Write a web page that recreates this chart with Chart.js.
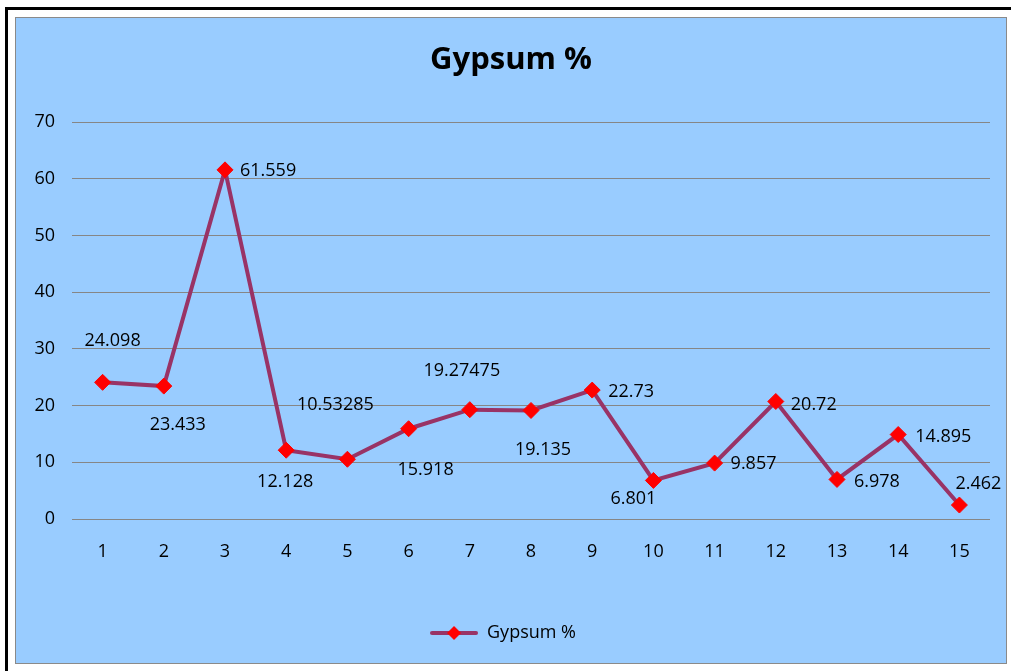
<!DOCTYPE html>
<html>
<head>
<meta charset="utf-8">
<script src="https://cdn.jsdelivr.net/npm/chart.js@4.4.1/dist/chart.umd.min.js"></script>
<style>
  html, body { margin: 0; padding: 0; background: #ffffff; overflow: hidden; width: 1011px; height: 671px; }
  #frame { position: absolute; left: 5px; top: 7px; width: 1100px; height: 800px; border: 3px solid #000; }
  #wrap { position: absolute; left: 15px; top: 17px; width: 990px; height: 645px; border: 1px solid #8a8a8a; background: #99ccff; }
  canvas { display: block; }
</style>
</head>
<body>
<div id="frame"></div>
<div id="wrap"><canvas id="c" width="990" height="645"></canvas></div>
<script>
// ---- data ----
const categories = ['1','2','3','4','5','6','7','8','9','10','11','12','13','14','15'];
const gypsum = [24.098, 23.433, 61.559, 12.128, 10.53285, 15.918, 19.27475, 19.135, 22.73, 6.801, 9.857, 20.72, 6.978, 14.895, 2.462];
const valueLabels = ['24.098','23.433','61.559','12.128','10.53285','15.918','19.27475','19.135','22.73','6.801','9.857','20.72','6.978','14.895','2.462'];
const seriesName = 'Gypsum %';
const chartTitle = 'Gypsum %';

// label placement (kept separate from data)
const labelAlign = ['center','center','left','center','center','center','center','center','left','center','left','left','left','left','center'];
const labelDx = [10, 14, 15, -1, -12, 17, -8, 12, 16, -20, 16, 15, 17, 17, 19];
const labelDy = [-41, 39, 1, 32, -54, 41, -39, 39, 2, 18, 1, 3, 2, 2, -21];

const FONT = "'Open Sans', 'Liberation Sans', sans-serif";
const lineColor = '#993366';
const markerColor = '#ff0000';

// legend symbol: line with diamond
const legendSym = document.createElement('canvas');
legendSym.width = 48; legendSym.height = 18;
(function(){
  const g = legendSym.getContext('2d');
  g.strokeStyle = lineColor; g.lineWidth = 4; g.lineCap = 'round';
  g.beginPath(); g.moveTo(2, 9); g.lineTo(46, 9); g.stroke();
  g.fillStyle = markerColor;
  g.beginPath(); g.moveTo(24, 2); g.lineTo(31, 9); g.lineTo(24, 16); g.lineTo(17, 9); g.closePath(); g.fill();
})();

const labelPlugin = {
  id: 'valueLabels',
  afterDatasetsDraw(chart) {
    const ctx = chart.ctx;
    const meta = chart.getDatasetMeta(0);
    ctx.save();
    ctx.font = "18px " + FONT;
    ctx.fillStyle = '#000';
    ctx.textBaseline = 'middle';
    meta.data.forEach((pt, i) => {
      ctx.textAlign = labelAlign[i];
      ctx.fillText(valueLabels[i], pt.x + labelDx[i], pt.y + labelDy[i]);
    });
    ctx.restore();
  }
};

const titlePlugin = {
  id: 'centeredTitle',
  afterDraw(chart) {
    const ctx = chart.ctx;
    ctx.save();
    ctx.font = "bold 31px " + FONT;
    ctx.fillStyle = '#000';
    ctx.textAlign = 'center';
    ctx.textBaseline = 'middle';
    ctx.fillText(chartTitle, chart.width / 2, 42);
    ctx.restore();
  }
};

new Chart(document.getElementById('c'), {
  type: 'line',
  data: {
    labels: categories,
    datasets: [{
      label: seriesName,
      data: gypsum,
      borderColor: lineColor,
      borderWidth: 4,
      pointStyle: 'rectRot',
      pointRadius: 8,
      pointHoverRadius: 8,
      pointBackgroundColor: markerColor,
      pointBorderColor: markerColor,
      pointBorderWidth: 1,
      tension: 0,
      fill: false
    }]
  },
  options: {
    responsive: false,
    animation: false,
    devicePixelRatio: 1,
    layout: { padding: { left: 0, right: 16, top: 104, bottom: 11 } },
    plugins: {
      title: { display: false },
      legend: {
        display: true,
        position: 'bottom',
        labels: {
          color: '#000',
          font: { family: FONT, size: 18 },
          usePointStyle: true,
          pointStyleWidth: 48,
          padding: 10,
          generateLabels: () => [{ text: seriesName, pointStyle: legendSym, fillStyle: markerColor, strokeStyle: lineColor, lineWidth: 0, datasetIndex: 0 }]
        }
      },
      tooltip: { enabled: false }
    },
    scales: {
      x: {
        type: 'category',
        offset: true,
        grid: { display: false, drawTicks: false },
        border: { display: false },
        ticks: { color: '#000', font: { family: FONT, size: 18 }, padding: 22, maxRotation: 0 },
        afterFit(scale) { scale.height = 95; }
      },
      y: {
        min: 0, max: 70,
        ticks: { stepSize: 10, color: '#000', font: { family: FONT, size: 18 }, padding: 17 },
        grid: { color: '#868686', lineWidth: 1, drawTicks: false },
        border: { display: false },
        afterFit(scale) { scale.width = 56; }
      }
    }
  },
  plugins: [labelPlugin, titlePlugin]
});
</script>
</body>
</html>
